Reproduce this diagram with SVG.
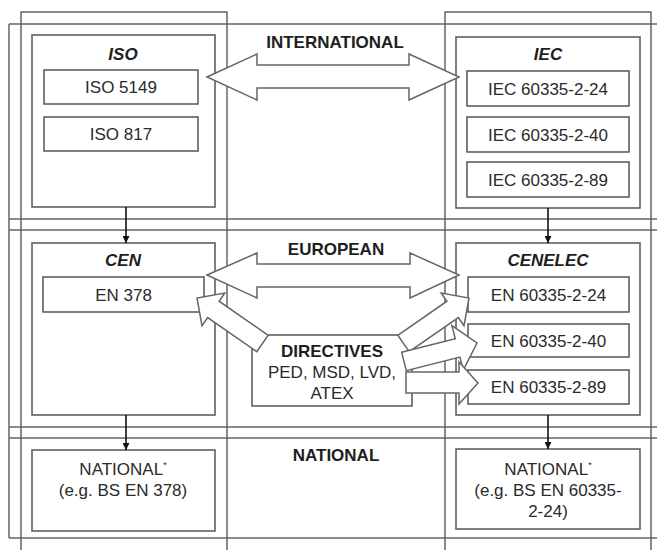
<svg xmlns="http://www.w3.org/2000/svg" width="657" height="550" viewBox="0 0 657 550">
<defs>
<style>
.grid{stroke:#666;stroke-width:1.5;fill:none}
.box{stroke:#555;stroke-width:1.5;fill:#fff}
.blk{stroke:#666;stroke-width:1.5;fill:#fff;stroke-linejoin:miter}
.conn{stroke:#111;stroke-width:1.6;fill:none}
text{font-family:"Liberation Sans",Arial,sans-serif;font-size:17px;fill:#2a2a2a;text-anchor:middle}
.hd{font-weight:bold;fill:#1e1e1e}
.hi{font-weight:bold;font-style:italic;fill:#1e1e1e}
.sup{font-size:9px}
</style>
<marker id="ah" viewBox="0 0 10 10" refX="10" refY="5" markerWidth="7" markerHeight="7" markerUnits="userSpaceOnUse" orient="auto">
<path d="M0,0 L10,5 L0,10 z" fill="#111"/>
</marker>
</defs>
<rect width="657" height="550" fill="#fff"/>
<g id="grid">
<path class="grid" d="M9,24H657M9,219H657M9,230H657M9,427H657M9,438H657M9,538H657M9,24V538"/>
<path class="grid" d="M21,550V12H227V550M445,550V12H651V550"/>
</g>
<g id="row-labels">
<text class="hd" x="335" y="48">INTERNATIONAL</text>
<text class="hd" x="336" y="255">EUROPEAN</text>
<text class="hd" x="336" y="461">NATIONAL</text>
</g>
<g id="iso">
<rect class="box" x="32" y="35" width="183" height="172"/>
<text class="hi" x="123" y="60">ISO</text>
<rect class="box" x="44" y="70" width="154" height="34"/>
<text x="121" y="93">ISO 5149</text>
<rect class="box" x="44" y="117" width="154" height="34"/>
<text x="121" y="140">ISO 817</text>
</g>
<g id="iec">
<rect class="box" x="456" y="37" width="184" height="171"/>
<text class="hi" x="548" y="60">IEC</text>
<rect class="box" x="467" y="71" width="162" height="35"/>
<text x="548" y="94.5">IEC 60335-2-24</text>
<rect class="box" x="467" y="117" width="162" height="35"/>
<text x="548" y="140.5">IEC 60335-2-40</text>
<rect class="box" x="467" y="162" width="162" height="35"/>
<text x="548" y="185.5">IEC 60335-2-89</text>
</g>
<g id="cen">
<rect class="box" x="32" y="243" width="183" height="172"/>
<text class="hi" x="123" y="266">CEN</text>
<rect class="box" x="43" y="277" width="161" height="35"/>
<text x="123.5" y="300.5">EN 378</text>
</g>
<g id="cenelec">
<rect class="box" x="456" y="243" width="184" height="172"/>
<text class="hi" x="548" y="266">CENELEC</text>
<rect class="box" x="468" y="277" width="161" height="35"/>
<text x="548.5" y="300.5">EN 60335-2-24</text>
<rect class="box" x="468" y="324" width="161" height="33"/>
<text x="548.5" y="346.5">EN 60335-2-40</text>
<rect class="box" x="468" y="370" width="161" height="34"/>
<text x="548.5" y="393">EN 60335-2-89</text>
</g>
<g id="national-cen">
<rect class="box" x="32" y="450" width="183" height="81"/>
<text x="123" y="475">NATIONAL<tspan class="sup" dy="-7">*</tspan></text>
<text x="123" y="496">(e.g. BS EN 378)</text>
</g>
<g id="national-cenelec">
<rect class="box" x="456" y="449" width="184" height="80"/>
<text x="548" y="475">NATIONAL<tspan class="sup" dy="-7">*</tspan></text>
<text x="548" y="496">(e.g. BS EN 60335-</text>
<text x="548" y="517">2-24)</text>
</g>
<g id="directives">
<rect class="box" x="252" y="335" width="160" height="71"/>
<text class="hd" x="332" y="357">DIRECTIVES</text>
<text x="332" y="378">PED, MSD, LVD,</text>
<text x="332" y="399">ATEX</text>
</g>
<g id="connectors">
<polygon class="blk" points="207,77 257,54 257,65 409,65 409,54 459,77 409,100 409,88 257,88 257,100"/>
<polygon class="blk" points="207,275 257,253 257,264 410,264 410,253 459,275 410,298 410,287 257,287 257,298"/>
<polygon class="blk" points="268.2,335.3 219.1,301.2 224.8,293 197,298 202,325.8 207.7,317.6 256.8,351.7"/>
<polygon class="blk" points="397.8,335.3 446.9,301.2 441.2,293 469,298 464,325.8 458.3,317.6 409.2,351.7"/>
<polygon class="blk" points="401.7,352.3 455.3,338.7 451.9,325.6 477,343 463.3,370.2 459.9,357.1 406.3,370.7"/>
<polygon class="blk" points="406,372 459,372 459,362 478,383 459,404 459,393 406,393"/>
<line class="conn" x1="126" y1="207" x2="126" y2="243" marker-end="url(#ah)"/>
<line class="conn" x1="548" y1="208" x2="548" y2="243" marker-end="url(#ah)"/>
<line class="conn" x1="126" y1="415" x2="126" y2="450" marker-end="url(#ah)"/>
<line class="conn" x1="548" y1="415" x2="548" y2="449" marker-end="url(#ah)"/>
</g>
</svg>
